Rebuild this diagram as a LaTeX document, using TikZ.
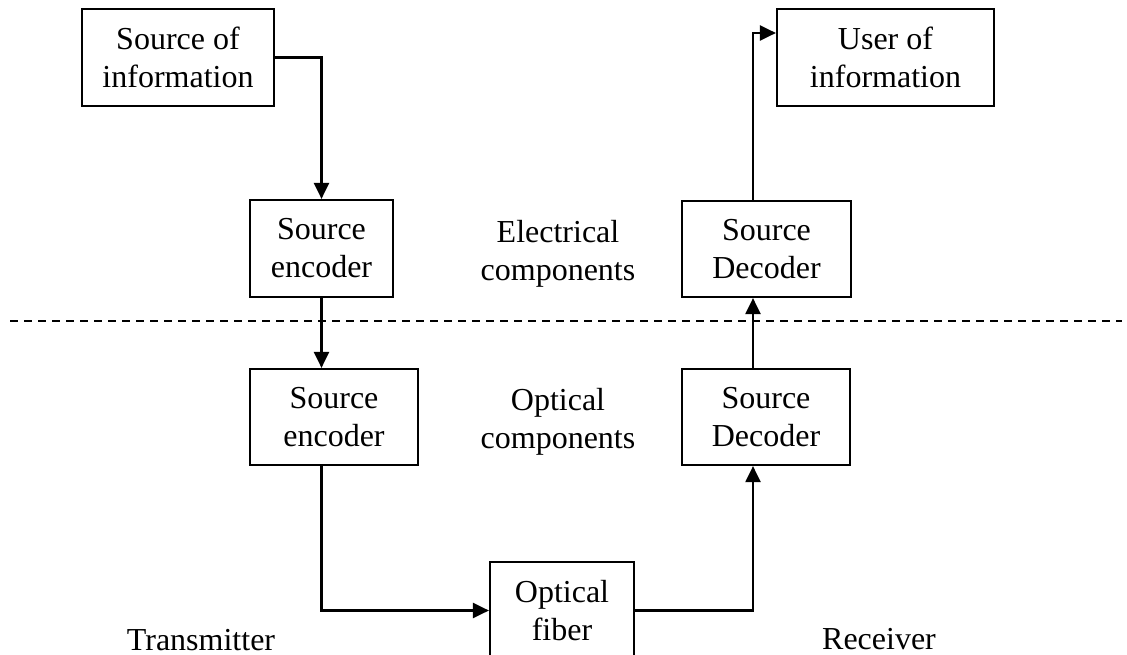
\documentclass[tikz,border=0pt]{standalone}
\usepackage{fontspec}
\setmainfont{Liberation Serif}
\usetikzlibrary{arrows.meta}
\begin{document}
\begin{tikzpicture}[x=1pt, y=-1pt,
    font=\fontsize{32}{38}\selectfont,
    block/.style={draw, line width=2.2pt, align=center, inner sep=0pt},
    lbl/.style={align=center, inner sep=0pt},
    conn/.style={line width=2.2pt, -{Triangle[length=16pt, width=15pt]}}]
  \useasboundingbox (0,0) rectangle (1127,655);
  % top row: source and user
  \node[block, minimum width=192pt, minimum height=97pt] (info) at (178,57.5) {Source of\\information};
  \node[block, minimum width=217pt, minimum height=97pt] (user) at (885.5,57.5) {User of\\information};
  % electrical components
  \node[block, minimum width=143pt, minimum height=97pt] (encA) at (321.5,248.5) {Source\\encoder};
  \node[block, minimum width=169pt, minimum height=96pt] (decA) at (766.5,249) {Source\\Decoder};
  \node[lbl] (elec) at (558,254) {Electrical\\components};
  % boundary
  \coordinate (dl) at (10,321);
  \coordinate (dr) at (1122,321);
  \draw[line width=2pt, dash pattern=on 8pt off 6pt] (dl) -- (dr);
  % optical components
  \node[block, minimum width=168pt, minimum height=96pt] (encB) at (334,417) {Source\\encoder};
  \node[block, minimum width=168pt, minimum height=96pt] (decB) at (766,417) {Source\\Decoder};
  \node[lbl] (opt) at (558,422) {Optical\\components};
  \node[block, minimum width=144pt, minimum height=97pt] (fiber) at (562,610.5) {Optical\\fiber};
  \node[lbl, anchor=base] (tx) at (201,650) {Transmitter};
  \node[lbl, anchor=base] (rx) at (879,649) {Receiver};
  % connectors
  \coordinate (rcol) at (753,0);
  \draw[conn] (info.east) -| (encA.north);
  \draw[conn] (encA.south) -- (encA.south |- encB.north);
  \draw[conn] (encA.south |- encB.south) |- (fiber.west);
  \draw[conn] (fiber.east) -| (rcol |- decB.south);
  \draw[conn] (rcol |- decB.north) -- (rcol |- decA.south);
  \draw[conn] (rcol |- decA.north) |- ([yshift=24.5pt]user.west);
\end{tikzpicture}
\end{document}
